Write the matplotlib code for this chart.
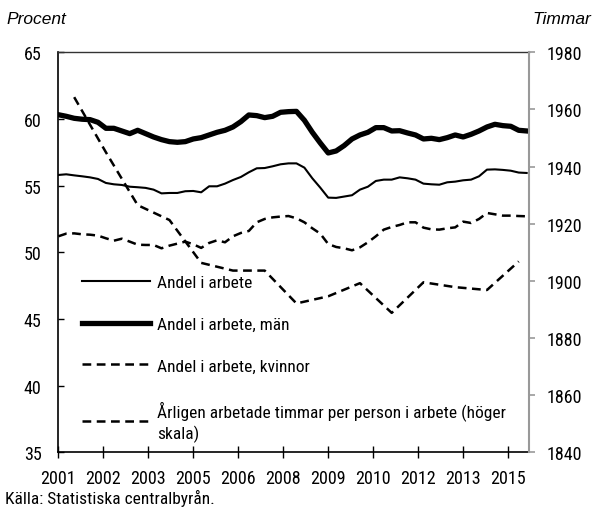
import numpy as np
import matplotlib
matplotlib.use("Agg")
import matplotlib.pyplot as plt
import matplotlib.font_manager as fm

# ---- data -------------------------------------------------------------
year_labels = ['2001', '2002', '2003', '2005', '2006', '2008', '2009',
               '2010', '2012', '2013', '2015']

# quarterly samples of monthly series (month index from Jan 2001)
months_q = np.arange(0, 178, 3)

andel_total = [55.8, 55.85, 55.77, 55.7, 55.62, 55.5, 55.2, 55.1, 55.05, 54.92,
               54.88, 54.83, 54.7, 54.42, 54.45, 54.45, 54.58, 54.6, 54.5, 54.95,
               54.95, 55.15, 55.42, 55.65, 56.0, 56.3, 56.32, 56.45, 56.6, 56.67,
               56.67, 56.35, 55.55, 54.85, 54.1, 54.08, 54.18, 54.28, 54.7, 54.92,
               55.35, 55.45, 55.45, 55.62, 55.55, 55.45, 55.15, 55.1, 55.07, 55.25,
               55.3, 55.4, 55.45, 55.7, 56.2, 56.22, 56.18, 56.12, 55.98, 55.95]

andel_man = [60.32, 60.2, 60.05, 59.98, 59.95, 59.75, 59.3, 59.3, 59.1, 58.9,
             59.15, 58.9, 58.65, 58.45, 58.3, 58.25, 58.3, 58.5, 58.6, 58.8,
             59.0, 59.15, 59.4, 59.8, 60.3, 60.25, 60.1, 60.2, 60.5, 60.55,
             60.57, 59.9, 59.0, 58.2, 57.45, 57.6, 58.0, 58.5, 58.8, 59.0,
             59.35, 59.35, 59.1, 59.12, 58.95, 58.8, 58.5, 58.55, 58.45, 58.6,
             58.8, 58.65, 58.85, 59.1, 59.4, 59.6, 59.5, 59.45, 59.15, 59.1]

andel_kvinnor = [51.2, 51.4, 51.42, 51.35, 51.32, 51.25, 51.05, 50.87, 51.02, 50.8,
                 50.57, 50.55, 50.55, 50.3, 50.5, 50.65, 50.8, 50.6, 50.33, 50.7,
                 50.9, 50.75, 51.2, 51.45, 51.6, 52.25, 52.5, 52.62, 52.68, 52.72,
                 52.55, 52.25, 51.8, 51.4, 50.62, 50.4, 50.3, 50.15, 50.37, 50.75,
                 51.2, 51.7, 51.9, 52.05, 52.25, 52.25, 51.85, 51.72, 51.7, 51.8,
                 51.87, 52.3, 52.2, 52.5, 52.95, 52.85, 52.75, 52.75, 52.72, 52.7]

# annual values, placed mid-year (July)
months_y = np.arange(6, 178, 12)
timmar = [1964.3, 1945.0, 1926.5, 1921.3, 1906.3, 1903.6, 1903.6, 1892.1,
          1894.6, 1899.2, 1888.8, 1899.5, 1897.8, 1896.8, 1906.8]

labels = ['Andel i arbete', 'Andel i arbete, män', 'Andel i arbete, kvinnor',
          'Årligen arbetade timmar per person i arbete (höger\nskala)']

# ---- font: look for a narrow / condensed sans -------------------------
def find_narrow():
    prefs = ['Liberation Sans Narrow', 'Roboto Condensed', 'Open Sans Condensed',
             'Noto Sans', 'DejaVu Sans', 'Open Sans', 'Roboto']
    cands = []
    for f in fm.fontManager.ttflist:
        narrow = (f.stretch in ('condensed', 'semi-condensed')
                  or 'Narrow' in f.name or 'Condensed' in f.name
                  or 'Condensed' in f.fname or 'Narrow' in f.fname)
        if not narrow or f.style != 'normal':
            continue
        w = f.weight
        if isinstance(w, str):
            w = {'normal': 400, 'regular': 400, 'book': 400, 'roman': 400}.get(w.lower(), 700)
        if w not in (400,):
            continue
        rank = len(prefs)
        for i, p in enumerate(prefs):
            if f.name.startswith(p):
                rank = i
                break
        stretch_rank = 0 if f.stretch == 'condensed' or 'Narrow' in f.name else 1
        cands.append((rank, stretch_rank, f.fname))
    if cands:
        cands.sort()
        return cands[0][2]
    return None

narrow_path = find_narrow()
fs = 13
if narrow_path:
    tprop = fm.FontProperties(fname=narrow_path, size=fs)
    lfs = 12.5
else:
    tprop = fm.FontProperties(family='Liberation Sans', size=11)
    lfs = 10.5
lprop = tprop.copy()
lprop.set_size(lfs)

# ---- figure -----------------------------------------------------------
fig = plt.figure(figsize=(5.95, 5.10), dpi=100)
ax = fig.add_axes([58.3/595, 1-453.3/510, (529.3-58.3)/595, 400/510])
ax2 = ax.twinx()

dash = (0, (3.5, 2.2))
l1, = ax.plot(months_q, andel_total, color='black', lw=1.5)
l2, = ax.plot(months_q, andel_man, color='black', lw=3.8)
l3, = ax.plot(months_q, andel_kvinnor, color='black', lw=1.8, linestyle=dash)
l4, = ax2.plot(months_y, timmar, color='black', lw=1.8, linestyle=dash)

ax.set_xlim(0, 178)
ax.set_ylim(35, 65)
ax.set_yticks(np.arange(35, 66, 5))
ax2.set_ylim(1840, 1980)
ax2.set_yticks(np.arange(1840, 1981, 20))

ax.set_xticks(np.arange(0, 171, 17))
ax.set_xticklabels(year_labels)

ax.tick_params(axis='y', direction='in', length=4, width=1, pad=12)
ax.tick_params(axis='x', direction='inout', length=9, width=1, pad=7.5)
ax2.tick_params(axis='y', direction='out', length=4.5, width=1.2, pad=8,
                color='#999999')
for lab in ax.get_xticklabels() + ax.get_yticklabels() + ax2.get_yticklabels():
    lab.set_fontproperties(tprop)

for s in ['left', 'bottom']:
    ax.spines[s].set_color('black')
    ax.spines[s].set_linewidth(1.2)
ax.spines['top'].set_color('#333333')
ax.spines['top'].set_linewidth(1.0)
ax.spines['right'].set_visible(False)
for s in ['left', 'bottom']:
    ax2.spines[s].set_visible(False)
ax2.spines['top'].set_visible(False)
ax2.spines['right'].set_color('#999999')
ax2.spines['right'].set_linewidth(1.5)

leg = ax.legend([l1, l2, l3, l4], labels, loc='upper left',
                bbox_to_anchor=(0.05, 0.443), frameon=False, prop=lprop,
                handlelength=3.9 * 12.5 / lfs, handletextpad=0.45 * 12.5 / lfs,
                labelspacing=1.52 * 12.5 / lfs,
                borderpad=0, borderaxespad=0)
for t in leg.get_texts():
    t.set_linespacing(1.35)

fig.text(6/595, 1-20/510, 'Procent', family='Liberation Sans', style='italic',
         fontsize=12.5, va='center', ha='left')
fig.text(591/595, 1-20/510, 'Timmar', family='Liberation Sans', style='italic',
         fontsize=12.5, va='center', ha='right')
fig.text(5/595, 1-498/510, 'Källa: Statistiska centralbyrån.', fontproperties=lprop,
         va='center', ha='left')

fig.savefig('out.png', dpi=100)
